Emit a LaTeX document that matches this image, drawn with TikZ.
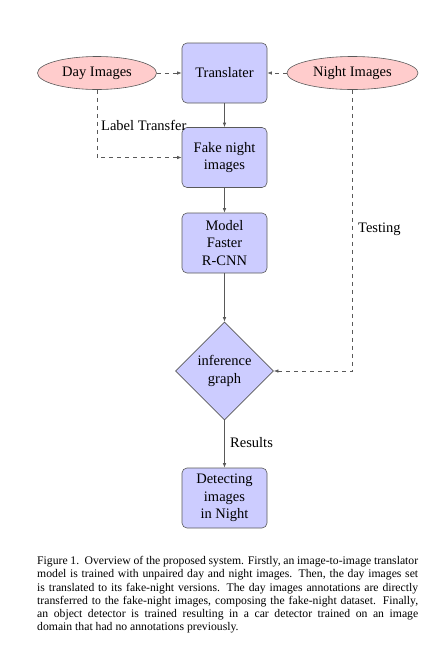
\documentclass[tikz,border=0pt]{standalone}
\usepackage{fontspec}
\setmainfont{Liberation Serif}
\usetikzlibrary{shapes.geometric,arrows.meta}
\begin{document}
\begin{tikzpicture}[x=1pt,y=-1pt,
  boxnode/.style={rectangle, rounded corners=5pt, draw=black!65, fill=blue!20,
    minimum width=85pt, minimum height=60pt, inner sep=0pt, align=center,
    font=\fontsize{14.5}{17.5}\selectfont, line width=0.6pt},
  ellnode/.style={ellipse, draw=black!65, fill=red!20, minimum height=33pt,
    inner sep=0pt, font=\fontsize{14.5}{17.5}\selectfont, line width=0.6pt},
  decnode/.style={diamond, draw=black!65, fill=blue!20, minimum width=98pt,
    minimum height=98pt, inner sep=0pt, align=center,
    font=\fontsize{14.5}{17.5}\selectfont, line width=0.6pt},
  conn/.style={draw=black!65, line width=0.6pt, -{Latex[length=4.5pt,width=3.4pt]}},
  dconn/.style={conn, dash pattern=on 4pt off 4pt},
  lbl/.style={font=\fontsize{14.5}{17.5}\selectfont, inner sep=0pt}
]
\useasboundingbox (0,0) rectangle (429,649);
\node[boxnode] (trans) at (224.5,73) {Translater};
\node[boxnode] (fake) at (224.5,157.5) {Fake night\\images};
\node[boxnode] (model) at (224.5,243) {Model\\Faster\\R-CNN};
\node[decnode] (inf) at (224.5,371) {inference\\graph};
\node[boxnode] (detect) at (224.5,498) {Detecting\\images\\in Night};
\node[ellnode, minimum width=119pt] (day) at (97,73) {Day Images};
\node[ellnode, minimum width=131pt] (night) at (352.5,73) {Night Images};

\draw[dconn] (day) -- (trans);
\draw[dconn] (night) -- (trans);
\draw[conn] (trans) -- (fake);
\draw[conn] (fake) -- (model);
\draw[conn] (model) -- (inf);
\draw[conn] (inf) -- (detect);
\draw[dconn] (day.south) |- (fake.west);
\draw[dconn] (night.south) |- (inf.east);

\node[lbl, anchor=west] (lt) at (101,125) {Label Transfer};
\node[lbl, anchor=west] (tst) at (358,229) {Testing};
\node[lbl, anchor=west] (res) at (230,443) {Results};

\node[anchor=north west, inner sep=0pt, text width=381pt, align=justify,
  font=\fontsize{11.7}{13.3}\selectfont] (cap) at (37,556)
  {\hyphenpenalty=10000\exhyphenpenalty=10000 Figure 1.~~Overview of the proposed system. Firstly, an image-to-image translator\linebreak
   model is trained with unpaired day and night images. Then, the day images set\linebreak
   is translated to its fake-night versions. The day images annotations are directly\linebreak
   transferred to the fake-night images, composing the fake-night dataset. Finally,\linebreak
   an object detector is trained resulting in a car detector trained on an image\linebreak
   domain that had no annotations previously.};
\end{tikzpicture}
\end{document}
